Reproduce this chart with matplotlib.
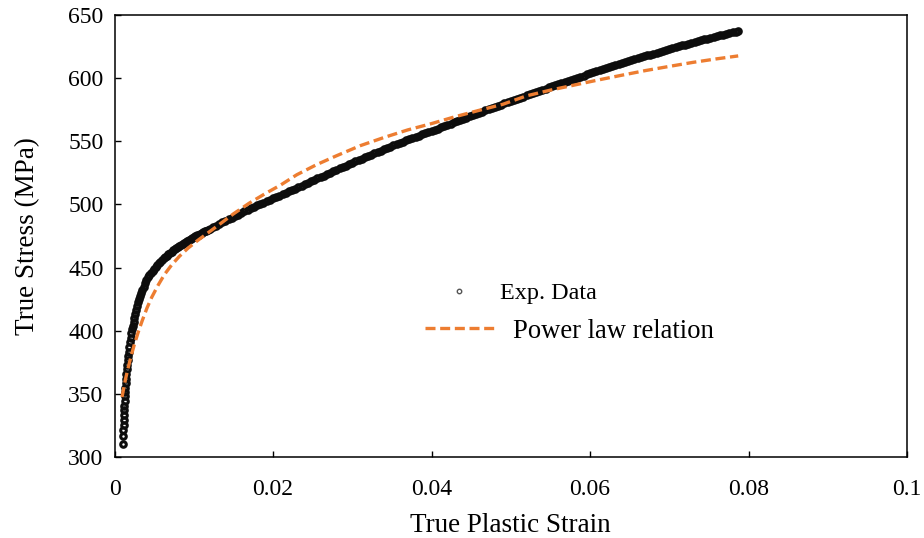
import matplotlib
matplotlib.use("Agg")
import matplotlib.pyplot as plt
from matplotlib.lines import Line2D

plt.rcParams["font.family"] = ["Liberation Serif", "DejaVu Serif"]

# Experimental true stress - true plastic strain record
exp_strain = [
    0.00110, 0.00112, 0.00113, 0.00115, 0.00117, 0.00119, 0.00121, 0.00124,
    0.00127, 0.00130, 0.00133, 0.00137, 0.00141, 0.00145, 0.00150, 0.00155,
    0.00160, 0.00166, 0.00172, 0.00179, 0.00186, 0.00194, 0.00202, 0.00211,
    0.00220, 0.00230, 0.00240, 0.00250, 0.00261, 0.00272, 0.00284, 0.00297,
    0.00310, 0.00324, 0.00338, 0.00353, 0.00369, 0.00385, 0.00400,
    0.0042, 0.0044, 0.0046, 0.0048, 0.0050, 0.0052, 0.0054, 0.0056,
    0.0058, 0.0060, 0.0062, 0.0064, 0.0066, 0.0068, 0.0070, 0.0072,
    0.0074, 0.0076, 0.0078, 0.0080, 0.0082, 0.0084, 0.0086, 0.0088,
    0.0090, 0.0092, 0.0094, 0.0096, 0.0098, 0.0100, 0.0102, 0.0104,
    0.0106, 0.0108, 0.0110, 0.0112, 0.0114, 0.0116, 0.0118, 0.0120,
    0.0124, 0.0128, 0.0132, 0.0136, 0.0140, 0.0144, 0.0148, 0.0152,
    0.0156, 0.0160, 0.0164, 0.0168, 0.0172, 0.0176, 0.0180, 0.0184,
    0.0188, 0.0192, 0.0196, 0.0200, 0.0204, 0.0208, 0.0212, 0.0216,
    0.0220, 0.0224, 0.0228, 0.0232, 0.0236, 0.0240, 0.0244, 0.0248,
    0.0252, 0.0256, 0.0260, 0.0264, 0.0268, 0.0272, 0.0276, 0.0280,
    0.0284, 0.0288, 0.0292, 0.0296, 0.0300, 0.0304, 0.0308, 0.0312,
    0.0316, 0.0320, 0.0324, 0.0328, 0.0332, 0.0336, 0.0340, 0.0344,
    0.0348, 0.0352, 0.0356, 0.0360, 0.0364, 0.0368, 0.0372, 0.0376,
    0.0380, 0.0384, 0.0388, 0.0392, 0.0396, 0.0400, 0.0404, 0.0408,
    0.0412, 0.0416, 0.0420, 0.0424, 0.0428, 0.0432, 0.0436, 0.0440,
    0.0444, 0.0448, 0.0452, 0.0456, 0.0460, 0.0464, 0.0468, 0.0472,
    0.0476, 0.0480, 0.0484, 0.0488, 0.0492, 0.0496, 0.0500, 0.0504,
    0.0508, 0.0512, 0.0516, 0.0520, 0.0524, 0.0528, 0.0532, 0.0536,
    0.0540, 0.0544, 0.0548, 0.0552, 0.0556, 0.0560, 0.0564, 0.0568,
    0.0572, 0.0576, 0.0580, 0.0584, 0.0588, 0.0592, 0.0596, 0.0600,
    0.0604, 0.0608, 0.0612, 0.0616, 0.0620, 0.0624, 0.0628, 0.0632,
    0.0636, 0.0640, 0.0644, 0.0648, 0.0652, 0.0656, 0.0660, 0.0664,
    0.0668, 0.0672, 0.0676, 0.0680, 0.0684, 0.0688, 0.0692, 0.0696,
    0.0700, 0.0704, 0.0708, 0.0712, 0.0716, 0.0720, 0.0724, 0.0728,
    0.0732, 0.0736, 0.0740, 0.0744, 0.0748, 0.0752, 0.0756, 0.0760,
    0.0764, 0.0768, 0.0772, 0.0776, 0.0780, 0.0784, 0.0787,
]
exp_stress = [
    310.5, 317.0, 321.5, 325.5, 329.5, 333.5, 337.5, 340.5,
    344.0, 348.0, 351.5, 355.0, 358.5, 362.0, 366.0, 369.5,
    373.0, 376.5, 380.0, 383.5, 387.0, 391.0, 394.5, 398.0,
    401.0, 404.0, 407.0, 410.0, 413.5, 416.5, 419.5, 422.5,
    425.0, 427.5, 430.0, 432.5, 435.0, 437.5, 440.0,
    442.2, 444.2, 446.0, 447.6, 449.2, 450.7, 452.1, 453.5,
    454.8, 456.0, 457.2, 458.3, 459.4, 460.5, 461.6, 462.6,
    463.6, 464.5, 465.4, 466.3, 467.2, 468.0, 468.8, 469.6,
    470.4, 471.2, 471.9, 472.6, 473.3, 474.0, 474.7, 475.4,
    476.1, 476.8, 477.5, 478.1, 478.7, 479.3, 479.9, 480.5,
    481.8, 483.1, 484.4, 485.7, 487.0, 488.3, 489.5, 490.8,
    492.0, 493.3, 494.5, 495.7, 496.8, 498.0, 499.2, 500.3,
    501.4, 502.6, 503.7, 504.8, 505.9, 507.0, 508.1, 509.2,
    510.3, 511.4, 512.5, 513.7, 514.8, 515.9, 517.1, 518.3,
    519.4, 520.6, 521.8, 522.9, 524.1, 525.2, 526.4, 527.5,
    528.6, 529.7, 530.8, 531.9, 533.0, 534.1, 535.2, 536.2,
    537.3, 538.4, 539.4, 540.5, 541.5, 542.6, 543.6, 544.6,
    545.7, 546.7, 547.8, 548.8, 549.7, 550.7, 551.6, 552.6,
    553.5, 554.4, 555.4, 556.3, 557.3, 558.2, 559.2, 560.1,
    561.1, 562.0, 563.0, 564.0, 564.9, 565.9, 566.8, 567.8,
    568.7, 569.7, 570.6, 571.6, 572.5, 573.4, 574.4, 575.3,
    576.3, 577.2, 578.1, 579.0, 580.0, 580.9, 581.8, 582.7,
    583.6, 584.5, 585.4, 586.3, 587.2, 588.1, 589.0, 589.9,
    590.8, 591.7, 592.6, 593.4, 594.3, 595.2, 596.1, 596.9,
    597.8, 598.6, 599.5, 600.3, 601.2, 602.0, 602.9, 603.7,
    604.5, 605.3, 606.2, 607.0, 607.8, 608.6, 609.4, 610.2,
    611.0, 611.8, 612.6, 613.4, 614.1, 614.9, 615.7, 616.5,
    617.2, 618.0, 618.7, 619.5, 620.2, 620.9, 621.7, 622.4,
    623.1, 623.8, 624.5, 625.2, 625.9, 626.6, 627.3, 628.0,
    628.6, 629.3, 630.0, 630.6, 631.3, 631.9, 632.6, 633.2,
    633.8, 634.4, 635.1, 635.7, 636.3, 636.9, 637.3,
]

# Fitted power law hardening curve
fit_strain = [
    0.00095, 0.00115, 0.0014, 0.0017, 0.0021, 0.0025, 0.0030, 0.0035,
    0.0041, 0.0047, 0.0055, 0.0063, 0.0072, 0.0082, 0.0093, 0.0105,
    0.0118, 0.0132, 0.0150, 0.0170, 0.0190, 0.0210, 0.0230, 0.0255,
    0.0280, 0.0310, 0.0340, 0.0370, 0.0400, 0.0430, 0.0460, 0.0490,
    0.0520, 0.0550, 0.0580, 0.0610, 0.0640, 0.0670, 0.0700, 0.0730,
    0.0760, 0.0787,
]
fit_stress = [
    347.5, 354.0, 362.0, 370.0, 380.0, 389.0, 399.0, 408.0,
    418.0, 426.5, 436.0, 444.5, 452.0, 459.0, 465.5, 471.5,
    477.5, 484.0, 492.5, 501.0, 508.5, 515.5, 523.5, 531.5,
    538.5, 546.5, 553.0, 559.0, 564.0, 569.5, 574.5, 579.3,
    586.0, 590.5, 594.5, 598.5, 602.3, 606.0, 609.3, 612.5,
    615.3, 617.6,
]

x_ticks = [0, 0.02, 0.04, 0.06, 0.08, 0.1]
x_tick_labels = ["0", "0.02", "0.04", "0.06", "0.08", "0.1"]
y_ticks = [300, 350, 400, 450, 500, 550, 600, 650]

ORANGE = "#ED7D31"
DPI = 100
fig = plt.figure(figsize=(9.24, 5.38), dpi=DPI)
ax = fig.add_axes([114.5 / 924, 1 - 457 / 538, (907 - 114.5) / 924, (457 - 15) / 538])

ax.plot(exp_strain, exp_stress, linestyle="none", marker="o",
        markersize=4.0, markerfacecolor="none", markeredgecolor="#0d0d0d",
        markeredgewidth=2.2, zorder=2)
ax.plot(fit_strain, fit_stress, color=ORANGE, linewidth=2.4,
        dashes=(3.0, 1.4), zorder=3)

ax.set_xlim(0, 0.1)
ax.set_ylim(300, 650)
ax.set_xticks(x_ticks)
ax.set_xticklabels(x_tick_labels)
ax.set_yticks(y_ticks)
ax.tick_params(direction="in", length=4.5, width=1.0, labelsize=17)
ax.tick_params(axis="x", pad=16)
ax.tick_params(axis="y", pad=8)
for s in ax.spines.values():
    s.set_linewidth(1.1)
    s.set_color("black")

ax.set_xlabel("True Plastic Strain", fontsize=19.5, labelpad=9)
ax.set_ylabel("True Stress (MPa)", fontsize=19.5, labelpad=20)

exp_handle = Line2D([], [], linestyle="none", marker="o", markersize=3.2,
                    markerfacecolor="none", markeredgecolor="#555555",
                    markeredgewidth=1.0)
fit_handle = Line2D([], [], color=ORANGE, linewidth=2.4, dashes=(3.0, 1.4))

fig.legend([exp_handle], ["Exp. Data"], loc="center left",
           bbox_to_anchor=(440 / 924, 1 - 293 / 538), frameon=False,
           fontsize=17.4, handlelength=1.6, handletextpad=0.9,
           borderpad=0, borderaxespad=0)
fig.legend([fit_handle], ["Power law relation"], loc="center left",
           bbox_to_anchor=(425 / 924, 1 - 331 / 538), frameon=False,
           fontsize=19.2, handlelength=2.62, handletextpad=0.67,
           borderpad=0, borderaxespad=0)

fig.savefig("out.png", dpi=DPI)
